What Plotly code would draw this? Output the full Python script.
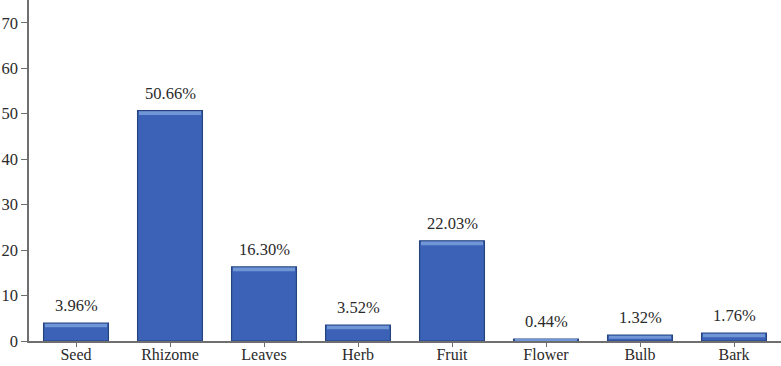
import plotly.graph_objects as go

categories = ["Seed", "Rhizome", "Leaves", "Herb", "Fruit", "Flower", "Bulb", "Bark"]
values = [3.96, 50.66, 16.30, 3.52, 22.03, 0.44, 1.32, 1.76]
y_ticks = [0, 10, 20, 30, 40, 50, 60, 70]

FONT = "Liberation Serif"

fig = go.Figure()
fig.add_trace(go.Bar(
    x=categories, y=values,
    width=0.69,
    marker=dict(color="#3b62b6", line=dict(color="#24437f", width=1.2)),
    showlegend=False,
))
# light bevel at bar tops
bev = [min(v * 0.5, 0.8) for v in values]
fig.add_trace(go.Bar(
    x=categories, y=bev,
    base=[v - b - 0.15 for v, b in zip(values, bev)],
    width=0.66,
    marker=dict(color="#7196d6", line=dict(width=0)),
    showlegend=False, hoverinfo="skip",
))
fig.update_layout(barmode="overlay")

for c, v in zip(categories, values):
    fig.add_annotation(x=c, y=v, text=f"{v:.2f}%", showarrow=False,
                       yanchor="bottom", yshift=6,
                       font=dict(family=FONT, size=16.5, color="#2a2a2a"))

fig.update_layout(
    width=781, height=366,
    margin=dict(l=29, r=0, t=0, b=25),
    plot_bgcolor="white", paper_bgcolor="white",
    font=dict(family=FONT, size=16.5, color="#2a2a2a"),
    bargap=0.31,
)
fig.update_yaxes(range=[0, 75], tickvals=y_ticks, showgrid=False, zeroline=False,
                 automargin=False,
                 showline=True, linecolor="#6f6f6f", linewidth=1.5,
                 ticks="outside", ticklen=6, tickcolor="#6f6f6f", tickwidth=1.2,
                 tickfont=dict(family=FONT, size=16.5, color="#2a2a2a"))
fig.update_xaxes(showgrid=False, showline=True, linecolor="#6f6f6f", linewidth=1.5,
                 automargin=False,
                 ticks="outside", ticklen=4, tickcolor="#6f6f6f", tickwidth=1.2,
                 ticklabelstandoff=-6,
                 range=[-0.5, 7.5],
                 tickfont=dict(family=FONT, size=16, color="#2a2a2a"))

fig.write_html("out.html")
